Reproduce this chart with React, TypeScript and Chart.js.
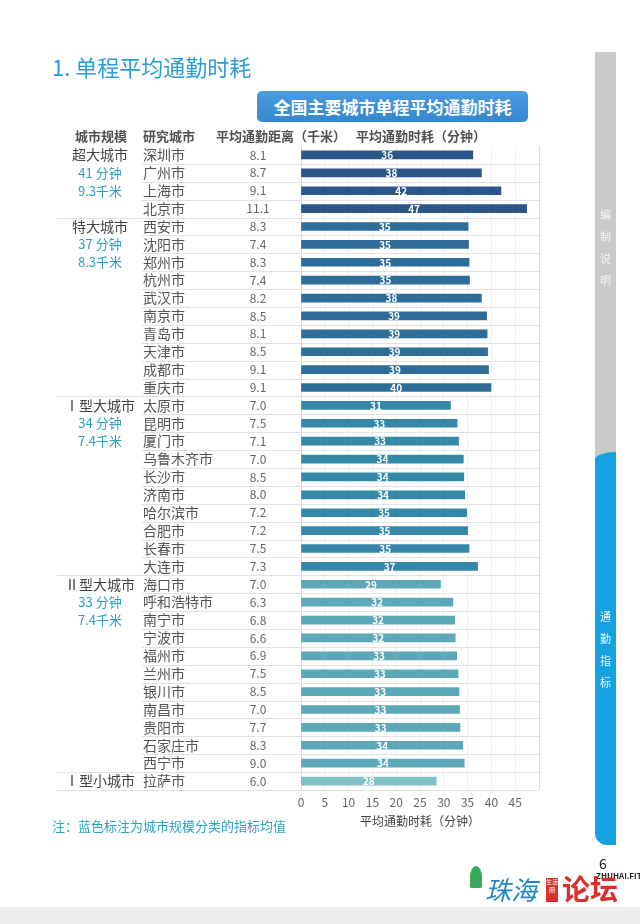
import React, { useEffect, useRef } from "react";
import { Chart, registerables } from "chart.js";
Chart.register(...registerables);

const cities = ["深圳市", "广州市", "上海市", "北京市", "西安市", "沈阳市", "郑州市", "杭州市", "武汉市", "南京市", "青岛市", "天津市", "成都市", "重庆市", "太原市", "昆明市", "厦门市", "乌鲁木齐市", "长沙市", "济南市", "哈尔滨市", "合肥市", "长春市", "大连市", "海口市", "呼和浩特市", "南宁市", "宁波市", "福州市", "兰州市", "银川市", "南昌市", "贵阳市", "石家庄市", "西宁市", "拉萨市"];
const distances = [8.1, 8.7, 9.1, 11.1, 8.3, 7.4, 8.3, 7.4, 8.2, 8.5, 8.1, 8.5, 9.1, 9.1, 7.0, 7.5, 7.1, 7.0, 8.5, 8.0, 7.2, 7.2, 7.5, 7.3, 7.0, 6.3, 6.8, 6.6, 6.9, 7.5, 8.5, 7.0, 7.7, 8.3, 9.0, 6.0];
const times = [36.1, 37.9, 42.0, 47.4, 35.1, 35.2, 35.3, 35.4, 37.9, 39.0, 39.1, 39.2, 39.4, 39.9, 31.4, 32.8, 33.1, 34.1, 34.2, 34.4, 34.8, 35.0, 35.3, 37.1, 29.3, 31.9, 32.3, 32.4, 32.7, 33.0, 33.2, 33.3, 33.4, 34.0, 34.3, 28.4];
const timeLabels = [36, 38, 42, 47, 35, 35, 35, 35, 38, 39, 39, 39, 39, 40, 31, 33, 33, 34, 34, 34, 35, 35, 35, 37, 29, 32, 32, 32, 33, 33, 33, 33, 33, 34, 34, 28];
const groupNames = ["超大城市", "特大城市", "Ⅰ型大城市", "Ⅱ型大城市", "Ⅰ型小城市"];
const groupSizes = [4, 10, 10, 11, 1];
const groupTimes = ["41 分钟", "37 分钟", "34 分钟", "33 分钟", ""];
const groupDists = ["9.3千米", "8.3千米", "7.4千米", "7.4千米", ""];
const groupColors = ["#2c5687", "#2f6d99", "#3588a8", "#5ca7b8", "#82c0ca"];
const xTicks = [0, 5, 10, 15, 20, 25, 30, 35, 40, 45];
const headers = ["城市规模", "研究城市", "平均通勤距离（千米）", "平均通勤时耗（分钟）"];

const FONT = "'Noto Sans CJK SC', 'Noto Sans', sans-serif";

const groupOf: number[] = [];
const groupStart: number[] = [];
{
  let s = 0;
  groupSizes.forEach((n, g) => {
    groupStart.push(s);
    for (let k = 0; k < n; k++) groupOf.push(g);
    s += n;
  });
}
const barColors = cities.map((_, i) => groupColors[groupOf[i]]);

const tablePlugin = {
  id: "tablePlugin",
  beforeDatasetsDraw(chart: any) {
    const ctx = chart.ctx;
    const ys = chart.scales.y;
    const area = chart.chartArea;
    ctx.save();
    ctx.strokeStyle = "#e2e2e2";
    ctx.lineWidth = 1;
    for (let i = 0; i < cities.length - 1; i++) {
      const yy = Math.round((ys.getPixelForValue(i) + ys.getPixelForValue(i + 1)) / 2) + 0.5;
      const x0 = groupStart.includes(i + 1) ? 57 : 142;
      ctx.beginPath();
      ctx.moveTo(x0, yy);
      ctx.lineTo(area.right, yy);
      ctx.stroke();
    }
    const yb = Math.round(area.bottom) + 0.5;
    ctx.beginPath();
    ctx.moveTo(57, yb);
    ctx.lineTo(area.right, yb);
    ctx.stroke();

    // headers
    ctx.textBaseline = "middle";
    ctx.fillStyle = "#505050";
    ctx.font = `bold 13px ${FONT}`;
    const hy = area.top - 9.5;
    ctx.textAlign = "center";
    ctx.fillText(headers[0], 101, hy);
    ctx.textAlign = "left";
    ctx.fillText(headers[1], 143, hy);
    ctx.textAlign = "center";
    ctx.fillText(headers[2], 281, hy);
    ctx.fillText(headers[3], 421, hy);

    // rows
    cities.forEach((c, i) => {
      const y = ys.getPixelForValue(i);
      ctx.font = `14px ${FONT}`;
      ctx.fillStyle = "#555";
      ctx.textAlign = "left";
      ctx.fillText(c, 143, y);
      ctx.font = `12px ${FONT}`;
      ctx.fillStyle = "#666";
      ctx.textAlign = "center";
      ctx.fillText(distances[i].toFixed(1), 258, y);
    });
    // groups
    groupNames.forEach((g, k) => {
      const s = groupStart[k];
      ctx.textAlign = "center";
      ctx.font = `14px ${FONT}`;
      ctx.fillStyle = "#444";
      ctx.fillText(g, 100, ys.getPixelForValue(s));
      ctx.font = `13px ${FONT}`;
      ctx.fillStyle = "#2a9fc8";
      if (groupTimes[k]) ctx.fillText(groupTimes[k], 100, ys.getPixelForValue(s + 1));
      if (groupDists[k]) ctx.fillText(groupDists[k], 100, ys.getPixelForValue(s + 2));
    });
    ctx.restore();
  },
  afterDatasetsDraw(chart: any) {
    const ctx = chart.ctx;
    const meta = chart.getDatasetMeta(0);
    ctx.save();
    ctx.font = `bold 10px ${FONT}`;
    ctx.fillStyle = "#ffffff";
    ctx.textAlign = "center";
    ctx.textBaseline = "middle";
    meta.data.forEach((bar: any, i: number) => {
      const cx = (bar.x + bar.base) / 2;
      ctx.fillText(String(timeLabels[i]), cx, bar.y + 0.5);
    });
    ctx.restore();
  },
};

function ChartCanvas() {
  const ref = useRef<HTMLCanvasElement>(null);
  useEffect(() => {
    if (!ref.current) return;
    const chart = new Chart(ref.current, {
      type: "bar",
      data: {
        labels: cities,
        datasets: [
          {
            data: times,
            backgroundColor: barColors,
            barThickness: 8,
            borderWidth: 0,
          },
        ],
      },
      options: {
        indexAxis: "y",
        animation: false,
        responsive: false,
        devicePixelRatio: 1,
        layout: { padding: { left: 301, right: 101, top: 146, bottom: 94 } },
        plugins: { legend: { display: false }, tooltip: { enabled: false } },
        scales: {
          y: { display: false, grid: { display: false } },
          x: {
            min: 0,
            max: 50,
            afterBuildTicks: (scale: any) => {
              scale.ticks = [...xTicks, 50].map((v) => ({ value: v }));
            },
            afterFit: (scale: any) => {
              scale.height = 40;
            },
            ticks: {
              callback: (v: any) => (xTicks.includes(Number(v)) ? String(v) : ""),
              color: "#666",
              font: { family: FONT, size: 12 },
              padding: 5,
              maxRotation: 0,
              autoSkip: false,
            },
            grid: {
              color: (c: any) => (c.tick && (c.tick.value === 0 || c.tick.value === 50) ? "#dcdcdc" : "#f0f0f0"),
              drawTicks: false,
            },
            border: { display: false },
            title: {
              display: true,
              text: "平均通勤时耗（分钟）",
              color: "#444",
              font: { family: FONT, size: 12 },
              padding: { top: 2, bottom: 1 },
            },
          },
        },
      },
      plugins: [tablePlugin],
    } as any);
    return () => chart.destroy();
  }, []);
  return <canvas ref={ref} width={640} height={924} style={{ position: "absolute", left: 0, top: 0 }} />;
}

export default function App() {
  return (
    <div style={{ position: "absolute", left: 0, top: 0, width: 640, height: 924, overflow: "hidden", background: "#fff", fontFamily: FONT }}>
      <ChartCanvas />
      <div style={{ position: "absolute", left: 52, top: 50, fontSize: 22, color: "#2a9fd6", lineHeight: "32px", whiteSpace: "nowrap" }}>
        1. 单程平均通勤时耗
      </div>
      <div style={{ position: "absolute", left: 257, top: 91, width: 271, height: 31, borderRadius: 5, background: "linear-gradient(#4a9be0, #3488cf)", color: "#fff", fontWeight: "bold", fontSize: 17, lineHeight: "31px", textAlign: "center", whiteSpace: "nowrap" }}>
        全国主要城市单程平均通勤时耗
      </div>
      {/* side tabs */}
      <div style={{ position: "absolute", left: 595, top: 52, width: 21, height: 410, background: "#cacaca" }} />
      <div style={{ position: "absolute", left: 595, top: 452, width: 21, height: 393, background: "#14a2e2", borderTopLeftRadius: "21px 8px", borderBottomLeftRadius: 12 }} />
      <div style={{ position: "absolute", left: 595, top: 203, width: 21, color: "#f4f4f4", fontSize: 11, lineHeight: "22px", textAlign: "center" }}>
        {"编制说明".split("").map((c, i) => <div key={i}>{c}</div>)}
      </div>
      <div style={{ position: "absolute", left: 595, top: 605, width: 21, color: "#eaf6fd", fontSize: 11, lineHeight: "22px", textAlign: "center" }}>
        {"通勤指标".split("").map((c, i) => <div key={i}>{c}</div>)}
      </div>
      <div style={{ position: "absolute", left: 52, top: 815, fontSize: 13, color: "#2aa3c9", lineHeight: "22px", whiteSpace: "nowrap" }}>
        注：蓝色标注为城市规模分类的指标均值
      </div>
      {/* page number & logo */}
      <div style={{ position: "absolute", left: 599, top: 855, fontSize: 14, color: "#222", lineHeight: "16px" }}>6</div>
      <div style={{ position: "absolute", left: 596, top: 870, fontSize: 8, fontWeight: "bold", color: "#222", lineHeight: "12px", whiteSpace: "nowrap" }}>ZHUHAI.FIT</div>
      <div style={{ position: "absolute", left: 470, top: 866, width: 12, height: 22, borderRadius: "50% 50% 10% 10%", background: "#3aa85a" }} />
      <div style={{ position: "absolute", left: 485, top: 874, fontSize: 26, fontStyle: "italic", color: "#1f86c6", lineHeight: "30px", whiteSpace: "nowrap" }}>珠海</div>
      <div style={{ position: "absolute", left: 546, top: 878, width: 12, height: 24, background: "#d9302c", color: "#fff", fontSize: 6, lineHeight: "8px", textAlign: "center" }}>生活圈</div>
      <div style={{ position: "absolute", left: 562, top: 872, fontSize: 28, fontWeight: "bold", color: "#d9302c", lineHeight: "32px", whiteSpace: "nowrap" }}>论坛</div>
      <div style={{ position: "absolute", left: 0, top: 907, width: 640, height: 17, background: "#eeeeee" }} />
    </div>
  );
}
